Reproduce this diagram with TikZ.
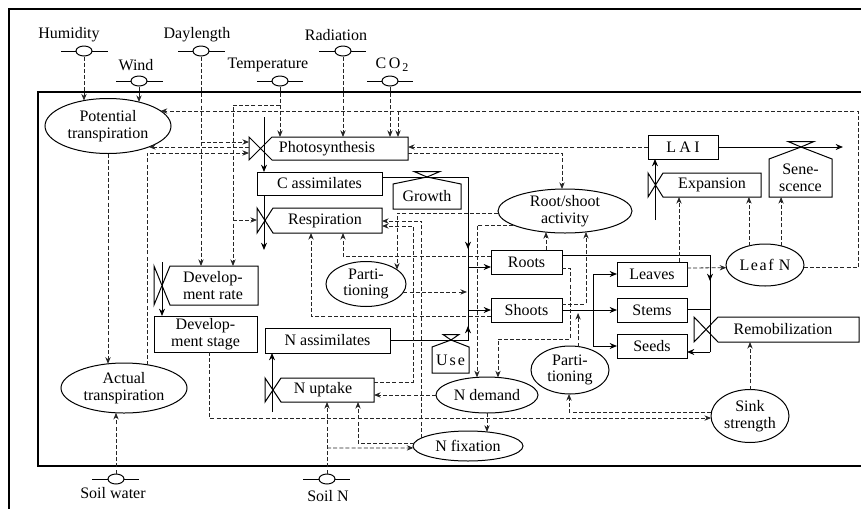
\documentclass[tikz,border=0pt]{standalone}
\usepackage{fontspec}
\setmainfont{Liberation Serif}
\usetikzlibrary{arrows.meta,shapes.geometric}
\newcommand\dfont{\fontsize{12}{12.5}\selectfont}
\tikzset{
  bx/.style={draw, line width=0.75pt},
  inv/.style={rectangle, inner sep=0pt, outer sep=0pt},
  txt/.style={inner sep=0pt, align=center, font=\dfont},
  dell/.style={ellipse, draw, line width=0.75pt, fill=white, inner sep=0pt, minimum width=12pt, minimum height=7.5pt},
  ell/.style={ellipse, draw, line width=0.75pt, fill=white, inner sep=-3pt, outer sep=0pt, align=center, font=\dfont},
  esz/.style 2 args={minimum width=#1*0.75pt, minimum height=#2*0.75pt},
  dsh/.style={line width=0.6pt, black!85, dash pattern=on 3pt off 1.6pt, -{Stealth[length=5pt,width=4pt]}},
  flow/.style={line width=0.75pt, -{Stealth[length=5.5pt,width=4.5pt]}},
  fl/.style={line width=0.75pt}}
\newcommand\drvr[8]{%
  \node[txt] (#1t) at (#2,#3) {#4};
  \draw[bx] (#6,#5) -- (#7,#5);
  \node[dell] (#1) at (#8,#5) {};}
\newcommand\rectbox[6]{%
  \node[bx, rectangle, inner sep=0pt, outer sep=0pt, font=\dfont, align=center,
    minimum width={(#4-#2)*0.75pt}, minimum height={(#5-#3)*0.75pt}]
    (#1) at ({(#2+#4)/2},{(#3+#5)/2}) {#6};}
\newcommand\flagbox[8]{%
  \draw[bx] (#3,#5) -- (#4,#5) -- (#4,#6) -- (#3,#6) -- (#2,#5) -- (#2,#6) -- cycle;
  \node[inv, minimum width={(#4-#2)*0.75pt}, minimum height={(#6-#5)*0.75pt}]
    (#1) at ({(#2+#4)/2},{(#5+#6)/2}) {};
  \node[txt] (#1t) at (#7,{(#5+#6)/2}) {#8};}
\newcommand\hsbox[9]{%
  \draw[bx] (#2,#7) -- (#2,#6) -- (#4,#5) -- (#3,#6) -- (#3,#7) -- cycle;
  \draw[bx] (#4,#5) -- ({#4-#8},{#5-5.5}) -- ({#4+#8},{#5-5.5}) -- cycle;
  \node[inv, minimum width={(#3-#2)*0.75pt}, minimum height={(#7-#6)*0.75pt}, font=\dfont, align=center]
    (#1) at ({(#2+#3)/2},{(#6+#7)/2}) {#9};}
\begin{document}
\begin{tikzpicture}[x=0.75pt,y=-0.75pt]
\path[use as bounding box, clip] (0,0) rectangle (861,508);

% frames
\draw[line width=1.6pt] (9,530) -- (9,9) -- (880,9);
\draw[line width=1.6pt] (880,92) -- (38,92) -- (38,466) -- (880,466);

% drivers
\drvr{hum}{69}{35}{Humidity}{51}{61}{108}{84}
\drvr{wind}{136}{65}{Wind}{81}{116}{163}{139}
\drvr{day}{197}{35}{Daylength}{51}{178}{225}{201}
\drvr{tmp}{268}{65}{Temperature}{81}{257}{303}{280}
\drvr{rad}{336}{35}{Radiation}{51}{319}{366}{343}
\drvr{co}{392}{65}{C\kern2pt O\kern1.5pt\raisebox{-2.5pt}{\fontsize{9}{9}\selectfont 2}}{81}{367}{413}{390}
\drvr{sw}{113}{493}{Soil water}{479}{92}{139}{116}
\drvr{sn}{328}{496}{Soil N}{479}{303}{350}{327}

% ellipses
\node[ell, esz={126}{55}] (pott) at (108,126) {Potential\\transpiration};
\node[ell, esz={126}{50}] (actt) at (124,388) {Actual\\transpiration};
\node[ell, esz={134}{44}] (rsa) at (565,211) {Root/shoot\\activity};
\node[ell, esz={80}{45}] (pc) at (366,284) {Parti-\\tioning};
\node[ell, esz={78}{48}] (pn) at (570,370) {Parti-\\tioning};
\node[ell, esz={102}{36}] (nd) at (487,395) {N demand};
\node[ell, esz={110}{30}] (nf) at (468,446) {N fixation};
\node[ell, esz={78}{42}] (ln) at (765,265) {L\kern1.2pt e\kern1.2pt a\kern1.2pt f\kern4pt N};
\node[ell, esz={78}{53}] (ss) at (750,416) {Sink\\strength};

% boxes
\rectbox{cas}{257}{172}{382}{195}{C assimilates}
\rectbox{lai}{648}{135}{718}{159}{L\kern2.5pt A\kern2.5pt I}
\rectbox{dst}{154}{316}{257}{352}{Develop-\\ment stage}
\rectbox{nas}{265}{328}{390}{353}{N assimilates}
\rectbox{roots}{491}{250}{562}{274}{Roots}
\rectbox{shoots}{491}{298}{562}{322}{Shoots}
\rectbox{leaves}{617}{262}{687}{286}{Leaves}
\rectbox{stems}{617}{298}{687}{322}{Stems}
\rectbox{seeds}{617}{334}{687}{358}{Seeds}

% rates
\flagbox{ps}{249}{272}{408}{137}{160}{327}{Photosynthesis}
\flagbox{resp}{257}{273}{382}{208}{233}{325}{Respiration}
\flagbox{exp}{648}{663}{761}{173}{197}{712}{Expansion}
\flagbox{dr}{154}{170}{258}{266}{305}{213}{Develop-\\ment rate}
\flagbox{nu}{265}{281}{374}{378}{402}{323}{N uptake}
\flagbox{rem}{694}{718}{859}{317}{342}{783}{Remobilization}

% outflows
\hsbox{gro}{393}{461}{427}{177}{184}{209}{13}{Growth}
\hsbox{use}{432}{469}{451}{340}{347}{373}{8}{U\kern1.5pt s\kern1.5pt e}
\hsbox{sen}{769}{832}{801}{147}{159}{197}{13}{Sene-\\scence}

% solid flows
\coordinate (cf) at (264,117);
\draw[flow] (cf) -- (cf |- cas.north);
\draw[flow] (cf |- cas.south) -- (264,250);
\draw[fl] (cas.east |- 0,177) -- (468,177) -- (468,340) -- (nas.east |- 0,340);
\draw[flow] (468,235) -- (468,249);
\draw[flow] (468,340) -- (468,326);
\draw[flow] (468,267) -- (roots.west |- 0,267);
\draw[flow] (468,310) -- (shoots.west |- 0,310);
\draw[flow] (162,262) -- (162,0 |- dst.north);
\draw[flow] (272,412) -- (272,0 |- nas.south);
\draw[flow] (655,220) -- (655,0 |- lai.south);
\draw[flow] (lai.east) -- (843,0 |- lai.east);
\draw[flow] (shoots.east) -- (stems.west);
\draw[fl] (593,274) -- (593,346);
\draw[flow] (593,274) -- (leaves.west);
\draw[flow] (593,346) -- (seeds.west);
\draw[fl] (roots.east |- 0,255) -- (710,255) -- (710,352);
\draw[flow] (710,352) -- (seeds.east |- 0,352);
\draw[flow] (710,268) -- (710,281);
\draw[fl] (stems.east |- 0,309) -- (710,309);

% information links
\draw[dsh] (hum.south) -- (hum.south |- pott.133);
\draw[dsh] (wind.south) -- (wind.south |- pott.38);
\draw[dsh] (day.south) -- (day.south |- dr.north);
\draw[dsh] (tmp.south) -- (tmp.south |- ps.north);
\draw[dsh] (tmp.south |- 0,105) -- (233,105) -- (233,0 |- dr.north);
\draw[dsh] (233,220) -- (resp.west |- 0,220);
\draw[dsh] (rad.south) -- (rad.south |- ps.north);
\draw[dsh] (co.south) -- (co.south |- ps.north);
\draw[dsh] (ln.356) -- (858,0 |- ln.356) -- (858,111) -- (pott.16 |- 0,111);
\draw[dsh] (398,111) -- (398,0 |- ps.north);
\draw[dsh] (day.south |- 0,142) -- (ps.west |- 0,142);
\draw[dsh] (ps.west |- 0,147) -- (pott.333 |- 0,147);
\draw[dsh] (actt.45) -- (actt.45 |- 0,153) -- (ps.west |- 0,153);
\draw[dsh] (pott.south) -- (pott.south |- actt.123);
\draw[dsh] (sw.north) -- (sw.north |- actt.252);
\draw[dsh] (lai.west) -- (lai.west -| ps.east);
\draw[dsh] (ps.east |- 0,153) -- (562,153) -- (562,0 |- rsa.north);
\draw[dsh] (rsa.182) -- (397,0 |- rsa.182) -- (397,0 |- pc.25);
\draw[dsh] (rsa.195) -- (477,0 |- rsa.195) -- (477,0 |- nd.120);
\draw[dsh] (pc.348) -- (pc.348 -| 467,0);
\draw[dsh] (roots.north -| 546,0) -- (546,0 |- rsa.228);
\draw[dsh] (shoots.east |- 0,304) -- (586,304) -- (586,0 |- rsa.315);
\draw[dsh] (roots.east |- 0,268) -- (570,268) -- (570,339) -- (498,339) -- (498,0 |- nd.58);
\draw[dsh] (pn.71) -- (pn.71 |- 0,313);
\draw[dsh] (ss.174) -- (569,0 |- ss.174) -- (569,0 |- pn.south);
\draw[dsh] (dst.south -| 209,0) -- (209,418) -- (209,0 |- ss.183) -- (ss.183);
\draw[dsh] (ss.north) -- (ss.north |- rem.south);
\draw[dsh] (leaves.north -| 679,0) -- (679,0 |- exp.south);
\draw[dsh] (ln.130) -- (ln.130 |- exp.south);
\draw[dsh] (ln.50) -- (ln.50 |- sen.south);
\draw[dsh] (leaves.east |- 0,268) -- (ln.184);
\draw[dsh] (roots.west |- 0,256) -- (343,256) -- (343,0 |- resp.south);
\draw[dsh] (shoots.west |- 0,316) -- (311,316) -- (311,0 |- resp.south);
\draw[dsh] (nf.170) -- (nf.170 |- 0,221) -- (resp.east |- 0,221);
\draw[dsh] (nu.east |- 0,382) -- (413,382) -- (413,226) -- (resp.east |- 0,226);
\draw[dsh] (nd.west) -- (nd.west -| nu.east);
\draw[dsh] (nd.south) -- (nd.south |- nf.37);
\draw[dsh] (sn.north) -- (sn.north |- nu.south);
\draw[dsh] (sn.north |- 0,448) -- (nf.182);
\draw[dsh] (nf.177) -- (358,0 |- nf.177) -- (358,0 |- nu.south);
\end{tikzpicture}
\end{document}
